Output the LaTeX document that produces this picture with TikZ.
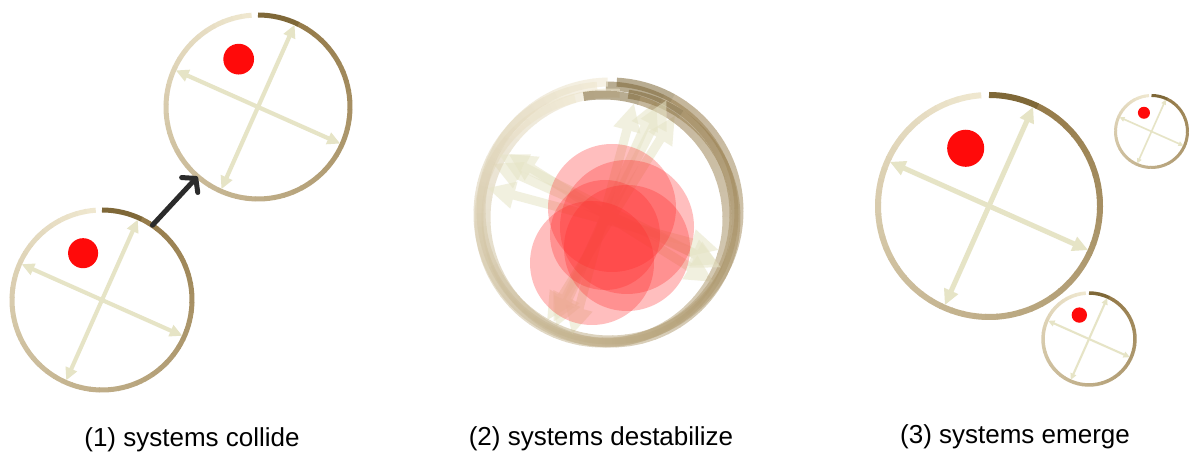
\documentclass[tikz,border=0pt]{standalone}
\usepackage{fontspec}
\setmainfont{Liberation Sans}
\usetikzlibrary{arrows.meta}
\definecolor{ringlt}{HTML}{EFE7CF}
\definecolor{ringdk}{HTML}{967C4B}
\definecolor{ringtop}{HTML}{7F6838}
\definecolor{arrowc}{HTML}{E6E4C6}
\definecolor{dotred}{HTML}{FF0A0A}
\definecolor{blobred}{HTML}{FF2A2A}
\definecolor{darkarrow}{HTML}{2B2B2B}
\tikzset{
  lbl/.style={font=\fontsize{26}{31}\selectfont, text=black, anchor=base, inner sep=0},
  blob/.style={fill=blobred, fill opacity=0.3},
  hit/.style={circle, inner sep=0, draw=none},
  pusharrow/.style={draw=darkarrow, line width=5pt, line cap=round, line join=round,
    -{Straight Barb[length=9pt,width=22pt,line cap=round,line join=round]}}
}
\newcommand\arrfac{1}
\newcommand\sysdraw[7]{%
\begin{scope}[shift={(#2,#3)}, rotate=#5, transparency group, opacity=#7]
  \pgfmathsetmacro\rr{#4}
  \pgfmathsetmacro\lw{#6}
  \foreach \i in {0,...,54}{
    \pgfmathsetmacro\a{94+\i*6}
    \pgfmathtruncatemacro\p{100-\i*100/54}
    \draw[line width=\lw pt, draw=ringlt!\p!ringdk] (\a:\rr) arc[start angle=\a, end angle=\a+6.5, radius=\rr];
  }
  \draw[line width=\lw pt, draw=ringtop] (424:\rr) arc[start angle=424, end angle=450, radius=\rr];
  \pgfmathsetmacro\ar{\rr-\lw/2+0.5}
  \pgfmathsetmacro\alw{\arrfac*\rr/22}
  \pgfmathsetmacro\ahl{\arrfac*\rr*0.14}
  \pgfmathsetmacro\ahw{\arrfac*\rr*0.13}
  \draw[draw=arrowc, fill=arrowc, line width=\alw pt, {Triangle[length=\ahl pt,width=\ahw pt]}-{Triangle[length=\ahl pt,width=\ahw pt]}] (156:\ar) -- (-24:\ar);
  \draw[draw=arrowc, fill=arrowc, line width=\alw pt, {Triangle[length=\ahl pt,width=\ahw pt]}-{Triangle[length=\ahl pt,width=\ahw pt]}] (66:\ar) -- (246:\ar);
\end{scope}
\node[hit, minimum size=2*#4] (#1) at (#2,#3) {};
}
\newcommand\sysdot[3]{%
  \fill[dotred] ({#1-0.21*#3},{#2+0.52*#3}) circle[radius={0.167*#3}];
}
\begin{document}
\begin{tikzpicture}[x=1pt,y=1pt]
\useasboundingbox (0,0) rectangle (1189,455);
\fill[white] (0,0) rectangle (1189,455);

% (1) systems collide
\sysdraw{s1}{102}{155}{90}{0}{5}{1}
\sysdot{102}{155}{90}
\sysdraw{s2}{258}{348}{92}{0}{5}{1}
\sysdot{258}{348}{92}
\draw[pusharrow] (s1.56) -- (s2.229);

% (2) systems destabilize
\renewcommand\arrfac{1.6}
\sysdraw{m1}{606}{241}{128}{0}{9}{0.55}
\sysdraw{m2}{611}{237}{125}{-8}{9}{0.55}
\sysdraw{m3}{603}{236}{124}{9}{9}{0.55}
\sysdraw{m4}{610}{244}{129}{-3}{9}{0.55}
\renewcommand\arrfac{1}
\fill[blob] (612,247) circle[radius=64];
\fill[blob] (627,228) circle[radius=67];
\fill[blob] (592,192) circle[radius=62];
\fill[blob] (627,207) circle[radius=63];
\fill[blob] (605,220) circle[radius=55];

% (3) systems emerge
\sysdraw{e1}{989}{249}{111}{0}{6}{1}
\sysdot{989}{249}{111}
\sysdraw{e2}{1151.5}{323.5}{36}{0}{3}{1}
\sysdot{1151.5}{323.5}{36}
\sysdraw{e3}{1089}{116}{46}{0}{3.5}{1}
\sysdot{1089}{116}{46}

% labels
\node[lbl] (l1) at (192,8) {(1) systems collide};
\node[lbl] (l2) at (601,9) {(2) systems destabilize};
\node[lbl] (l3) at (1015,11) {(3) systems emerge};
\end{tikzpicture}
\end{document}
